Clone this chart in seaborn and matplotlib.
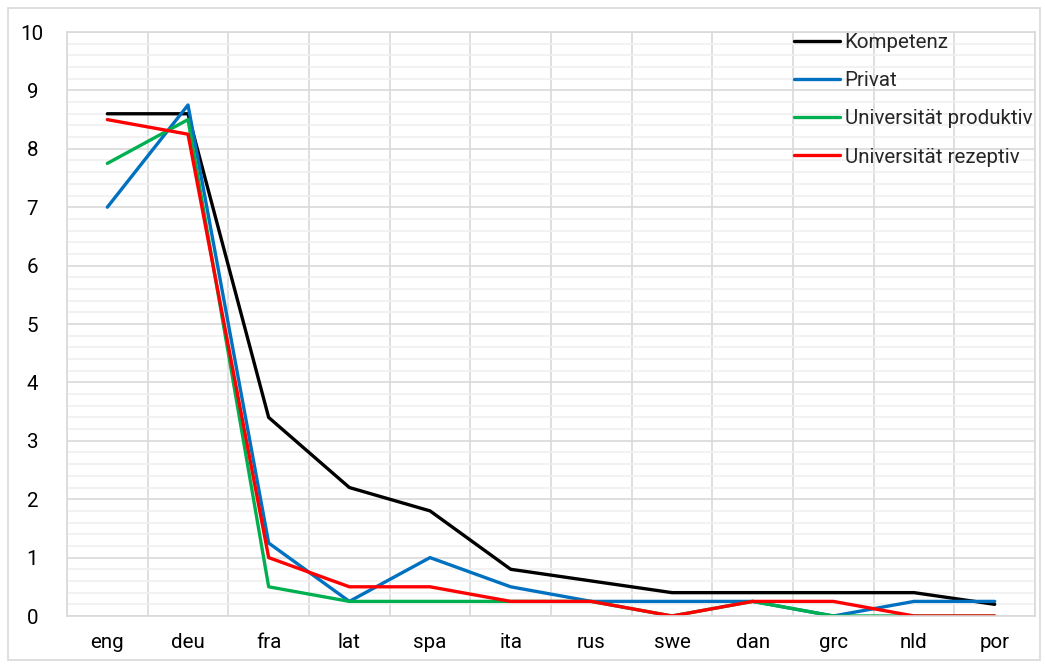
import matplotlib
matplotlib.use("Agg")
from matplotlib import pyplot as plt
from matplotlib.ticker import MultipleLocator, FixedLocator
import seaborn as sns
import pandas as pd
import numpy as np

languages = ["eng", "deu", "fra", "lat", "spa", "ita", "rus", "swe", "dan", "grc", "nld", "por"]
kompetenz = [8.6, 8.6, 3.4, 2.2, 1.8, 0.8, 0.6, 0.4, 0.4, 0.4, 0.4, 0.2]
privat = [7.0, 8.75, 1.25, 0.25, 1.0, 0.5, 0.25, 0.25, 0.25, 0.0, 0.25, 0.25]
uni_produktiv = [7.75, 8.5, 0.5, 0.25, 0.25, 0.25, 0.25, 0.0, 0.25, 0.0, 0.0, 0.0]
uni_rezeptiv = [8.5, 8.25, 1.0, 0.5, 0.5, 0.25, 0.25, 0.0, 0.25, 0.25, 0.0, 0.0]

series = {
    "Kompetenz": kompetenz,
    "Privat": privat,
    "Universität produktiv": uni_produktiv,
    "Universität rezeptiv": uni_rezeptiv,
}
colors = ["#000000", "#0070C0", "#00B050", "#FF0000"]

rows = []
for name, vals in series.items():
    for i, (lang, v) in enumerate(zip(languages, vals)):
        rows.append({"pos": i, "lang": lang, "wert": v, "serie": name})
df = pd.DataFrame(rows)

sns.set_style("white")
plt.rcParams["font.family"] = ["Roboto", "DejaVu Sans"]

fig = plt.figure(figsize=(10.45, 6.64), dpi=100)
# outer chart border
fig.patches.append(plt.Rectangle((8 / 1045, 4 / 664), 1032 / 1045, 652 / 664,
                                 transform=fig.transFigure, fill=False,
                                 edgecolor="#d9d9d9", linewidth=1.2))
ax = fig.add_axes([67 / 1045, 1 - 616 / 664, 968 / 1045, 584 / 664])

sns.lineplot(data=df, x="pos", y="wert", hue="serie", palette=colors,
             linewidth=2.4, ax=ax, sort=False)

ax.set_xlim(-0.5, len(languages) - 0.5)
ax.set_ylim(0, 10)
ax.set_xticks(range(len(languages)))
ax.set_xticklabels(languages)
ax.xaxis.set_minor_locator(FixedLocator(np.arange(-0.5, len(languages), 1.0)))
ax.yaxis.set_major_locator(MultipleLocator(1))
ax.yaxis.set_minor_locator(MultipleLocator(0.2))
ax.grid(which="minor", axis="y", color="#f0f0f0", linewidth=1.2)
ax.grid(which="major", axis="y", color="#d9d9d9", linewidth=1.2)
ax.grid(which="minor", axis="x", color="#d9d9d9", linewidth=1.2)
ax.set_axisbelow(True)
ax.tick_params(axis="both", which="both", length=0, labelsize=14.8, colors="#000000")
ax.tick_params(axis="x", pad=12)
ax.tick_params(axis="y", pad=25)
for lbl in ax.get_yticklabels():
    lbl.set_horizontalalignment("center")
for s in ax.spines.values():
    s.set_color("#d9d9d9")
    s.set_linewidth(1.2)
ax.set_xlabel("")
ax.set_ylabel("")

ax.legend(loc="upper right", bbox_to_anchor=(1.0055, 1.012), frameon=False, fontsize=14.8,
          handlelength=2.25, handletextpad=0.2, labelspacing=0.93, borderaxespad=0.0)

fig.savefig("out.png", dpi=100)
